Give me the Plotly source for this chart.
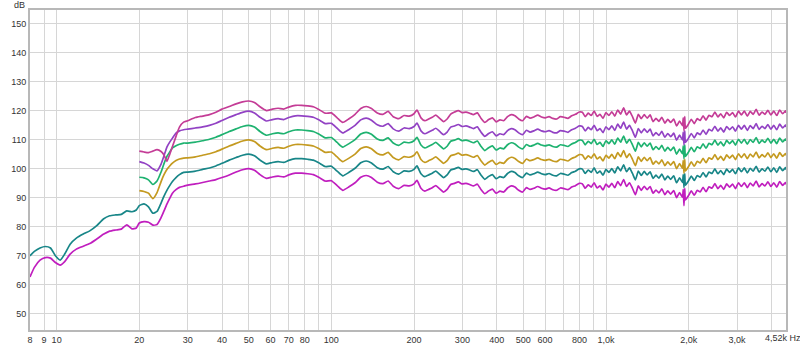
import math
import plotly.graph_objects as go

# ---------------- data ----------------
freq_low = [8.0, 8.3, 8.7, 9.1, 9.5, 9.9, 10.3, 10.7, 11.2, 11.8, 12.5, 13.2,
            14.0, 14.8, 15.6, 16.4, 17.2, 18.0, 18.8, 19.5]
teal_low = [70.0, 71.5, 72.7, 73.2, 72.7, 70.0, 68.5, 70.6, 74.0, 76.1, 77.5, 78.6,
            80.4, 82.7, 83.8, 84.1, 84.3, 85.5, 85.2, 85.8]
magenta_low = [62.7, 66.0, 68.5, 69.4, 69.2, 67.7, 66.8, 68.0, 70.6, 72.3, 73.3, 74.2,
               75.8, 77.4, 78.5, 78.9, 79.2, 80.7, 79.3, 79.6]

freq = [20, 20.8, 21.6, 22.4, 23.2, 24.0, 24.6, 25.2, 25.8, 26.4, 27.2, 28.0, 29.0,
        30, 32, 34, 36, 38, 40, 42.5, 45, 47.5, 50, 52.5, 55, 58, 61, 64, 67, 70, 74, 78, 82,
        86, 90, 95, 100, 105, 110, 116, 122, 128, 134, 140, 147, 154, 161, 168, 176, 184, 192, 200,
        205, 212, 219, 226, 233, 240, 248, 256, 264, 272, 281, 290, 299, 309, 319, 329, 340, 351,
        362, 374, 386, 398, 411, 424, 438, 452, 466, 481, 497, 513, 529, 546, 564, 582, 601, 620,
        640, 661, 682, 704, 727, 750, 774, 799,
        820, 840, 861, 883, 905, 928, 951, 975, 999, 1024, 1050, 1076, 1103, 1130, 1159, 1188,
        1217, 1248, 1279, 1311, 1344, 1377, 1412, 1447, 1483, 1520, 1558, 1597, 1637, 1678, 1720,
        1763, 1807, 1852, 1898, 1910, 1922, 1934, 1946, 1994, 2044, 2095, 2148, 2201, 2256, 2313,
        2370, 2430, 2490, 2553, 2616, 2682, 2749, 2818, 2888, 2960, 3034, 3110, 3188, 3268, 3349,
        3433, 3519, 3607, 3697, 3789, 3884, 3981, 4081, 4183, 4287, 4395, 4505, 4520]

curve_pink = [106.1, 105.8, 105.6, 106.1, 106.6, 106.0, 104.8, 102.6, 105.0, 107.7, 111.2, 114.4, 116.1,
              116.6, 117.7, 118.2, 118.7, 119.5, 120.6, 121.5, 122.4, 123.1, 123.4, 122.9, 121.4, 120.1,
              120.6, 120.9, 120.6, 121.3, 121.9, 121.9, 121.7, 121.4, 120.5, 119.2, 119.3, 117.6, 116.0,
              117.3, 118.8, 120.8, 121.5, 120.8, 119.3, 118.8, 119.8, 118.0, 117.3, 118.4, 118.2, 119.0,
              120.3, 117.6, 116.6, 117.2, 117.8, 118.5, 117.4, 116.3, 117.2, 118.9, 119.6, 120.1, 119.4,
              119.6, 119.2, 118.7, 119.3, 117.4, 116.0, 117.0, 117.6, 116.2, 116.9, 116.6, 118.0, 118.7,
              118.3, 117.2, 116.6, 118.1, 117.5, 117.9, 118.5, 117.9, 117.6, 118.0, 117.4, 117.2, 118.0,
              117.8, 117.4, 118.3, 118.8, 119.6,
              119.5, 118.0, 119.2, 118.4, 119.9, 118.1, 118.8, 117.4, 119.4,
              118.4, 119.7, 118.2, 120.3, 118.9, 121.0, 118.6, 119.9, 118.0, 115.8,
              118.8, 117.3, 118.7, 117.5, 118.6, 116.3, 117.4, 116.4, 117.8, 115.8,
              117.1, 116.0, 117.2, 114.8, 116.5, 114.9, 117.6, 113.2, 118.0, 114.0,
              115.4, 117.1, 115.6, 117.3, 116.7, 118.3, 116.8, 118.5, 118.0, 119.6,
              117.9, 119.0, 117.6, 119.5, 118.4, 119.4, 117.9, 119.9, 118.6, 119.9,
              118.2, 119.8, 118.8, 120.5, 118.5, 119.6, 118.8, 120.2, 118.6, 119.9,
              118.4, 120.3, 119.0, 120.0, 119.3]

curve_purple = [102.5, 102.0, 101.2, 100.0, 99.3, 101.6, 104.5, 107.5, 109.2, 110.6, 112.3, 113.1, 113.5,
                113.7, 114.1, 114.5, 115.0, 115.7, 116.7, 117.8, 118.7, 119.5, 119.9, 119.3, 117.8, 116.5,
                117.0, 117.3, 117.0, 117.7, 118.3, 118.3, 118.1, 117.8, 116.9, 115.6, 115.7, 114.0, 112.4,
                113.6, 115.0, 116.9, 117.5, 116.8, 115.2, 114.7, 115.6, 113.8, 113.0, 114.1, 113.9, 114.6,
                115.8, 113.1, 112.1, 112.7, 113.3, 114.0, 112.9, 111.8, 112.7, 114.4, 114.8, 115.3, 114.6,
                114.8, 114.4, 113.9, 114.5, 112.6, 111.2, 112.2, 112.8, 111.4, 112.1, 111.8, 113.2, 113.9,
                113.5, 112.4, 111.8, 113.3, 112.7, 113.1, 113.7, 113.1, 112.8, 113.2, 112.6, 112.4, 113.2,
                113.0, 112.6, 113.5, 114.0, 114.8,
                114.6, 113.1, 114.3, 113.5, 115.0, 113.2, 113.9, 112.5, 114.5,
                113.5, 114.8, 113.3, 115.4, 114.0, 116.1, 113.7, 115.0, 113.1, 110.9,
                113.9, 112.4, 113.8, 112.6, 113.7, 111.4, 112.5, 111.5, 112.9, 110.9,
                112.2, 111.1, 112.3, 109.9, 111.6, 110.0, 112.7, 108.3, 113.1, 109.1,
                110.5, 112.2, 110.7, 112.4, 111.8, 113.4, 111.9, 113.6, 113.1, 114.7,
                113.0, 114.1, 112.7, 114.6, 113.5, 114.5, 113.0, 115.0, 113.7, 115.0,
                113.3, 114.9, 113.9, 115.6, 113.6, 114.7, 113.9, 115.3, 113.7, 115.0,
                113.5, 115.4, 114.1, 115.1, 114.4]

curve_green = [97.1, 96.9, 96.2, 94.6, 95.8, 98.9, 101.8, 104.3, 105.8, 107.2, 108.0, 108.5, 108.9,
               108.9, 109.2, 109.7, 110.2, 110.9, 111.8, 112.9, 113.8, 114.6, 115.0, 114.4, 112.9, 111.6,
               112.1, 112.4, 112.1, 112.8, 113.4, 113.4, 113.2, 112.9, 112.0, 110.7, 110.8, 109.1, 107.5,
               108.7, 110.1, 112.0, 112.6, 111.9, 110.3, 109.8, 110.7, 108.9, 108.1, 109.2, 109.0, 109.7,
               110.9, 108.2, 107.2, 107.8, 108.4, 109.1, 108.0, 106.9, 107.8, 109.5, 109.9, 110.4, 109.7,
               109.9, 109.5, 109.0, 109.6, 107.7, 106.3, 107.3, 107.9, 106.5, 107.2, 106.9, 108.3, 109.0,
               108.6, 107.5, 106.9, 108.4, 107.8, 108.2, 108.8, 108.2, 107.9, 108.3, 107.7, 107.5, 108.3,
               108.1, 107.7, 108.6, 109.1, 109.9,
               109.8, 108.3, 109.5, 108.7, 110.2, 108.4, 109.1, 107.7, 109.7,
               108.7, 110.0, 108.5, 110.6, 109.2, 111.3, 108.9, 110.2, 108.3, 106.1,
               109.1, 107.6, 109.0, 107.8, 108.9, 106.6, 107.7, 106.7, 108.1, 106.1,
               107.4, 106.3, 107.5, 105.1, 106.8, 105.2, 107.9, 103.5, 108.3, 104.3,
               105.7, 107.4, 105.9, 107.6, 107.0, 108.6, 107.1, 108.8, 108.3, 109.9,
               108.2, 109.3, 107.9, 109.8, 108.7, 109.7, 108.2, 110.2, 108.9, 110.2,
               108.5, 110.1, 109.1, 110.8, 108.8, 109.9, 109.1, 110.5, 108.9, 110.2,
               108.7, 110.6, 109.3, 110.3, 109.6]

curve_gold = [92.5, 92.2, 91.6, 89.7, 91.8, 95.6, 98.0, 99.8, 101.0, 102.0, 102.9, 103.4, 103.7,
              103.8, 104.1, 104.7, 105.2, 105.9, 106.8, 107.9, 108.8, 109.6, 110.0, 109.4, 107.9, 106.6,
              107.1, 107.4, 107.1, 107.8, 108.4, 108.4, 108.2, 107.9, 107.0, 105.7, 105.8, 104.1, 102.5,
              103.7, 105.1, 107.0, 107.6, 106.9, 105.3, 104.8, 105.7, 103.9, 103.1, 104.2, 104.0, 104.7,
              105.9, 103.2, 102.2, 102.8, 103.4, 104.1, 103.0, 101.9, 102.8, 104.5, 104.9, 105.4, 104.7,
              104.9, 104.5, 104.0, 104.6, 102.7, 101.3, 102.3, 102.9, 101.5, 102.2, 101.9, 103.3, 104.0,
              103.6, 102.5, 101.9, 103.4, 102.8, 103.2, 103.8, 103.2, 102.9, 103.3, 102.7, 102.5, 103.3,
              103.1, 102.7, 103.6, 104.1, 104.9,
              104.8, 103.3, 104.5, 103.7, 105.2, 103.4, 104.1, 102.7, 104.7,
              103.7, 105.0, 103.5, 105.6, 104.2, 106.3, 103.9, 105.2, 103.3, 101.1,
              104.1, 102.6, 104.0, 102.8, 103.9, 101.6, 102.7, 101.7, 103.1, 101.1,
              102.4, 101.3, 102.5, 100.1, 101.8, 100.2, 102.9, 98.5, 103.3, 99.3,
              100.7, 102.4, 100.9, 102.6, 102.0, 103.6, 102.1, 103.8, 103.3, 104.9,
              103.2, 104.3, 102.9, 104.8, 103.7, 104.7, 103.2, 105.2, 103.9, 105.2,
              103.5, 105.1, 104.1, 105.8, 103.8, 104.9, 104.1, 105.5, 103.9, 105.2,
              103.7, 105.6, 104.3, 105.3, 104.6]

curve_teal = [87.3, 87.9, 86.9, 84.7, 85.3, 88.2, 90.6, 92.6, 94.2, 95.6, 97.0, 98.0, 98.8,
              98.9, 99.2, 99.8, 100.3, 101.0, 101.9, 103.0, 103.9, 104.7, 105.1, 104.5, 103.0, 101.7,
              102.2, 102.5, 102.2, 102.9, 103.5, 103.5, 103.3, 103.0, 102.1, 100.8, 100.9, 99.2, 97.6,
              98.8, 100.2, 102.1, 102.7, 102.0, 100.4, 99.9, 100.8, 99.0, 98.2, 99.3, 99.1, 99.8,
              101.0, 98.3, 97.3, 97.9, 98.5, 99.2, 98.1, 97.0, 97.9, 99.6, 100.0, 100.5, 99.8,
              100.0, 99.6, 99.1, 99.7, 97.8, 96.4, 97.4, 98.0, 96.6, 97.3, 97.0, 98.4, 99.1,
              98.7, 97.6, 97.0, 98.5, 97.9, 98.3, 98.9, 98.3, 98.0, 98.4, 97.8, 97.6, 98.4,
              98.2, 97.8, 98.7, 99.2, 100.0,
              99.9, 98.4, 99.6, 98.8, 100.3, 98.5, 99.2, 97.8, 99.8,
              98.8, 100.1, 98.6, 100.7, 99.3, 101.4, 99.0, 100.3, 98.4, 96.2,
              99.2, 97.7, 99.1, 97.9, 99.0, 96.7, 97.8, 96.8, 98.2, 96.2,
              97.5, 96.4, 97.6, 95.2, 96.9, 95.3, 98.0, 93.6, 98.4, 94.4,
              95.8, 97.5, 96.0, 97.7, 97.1, 98.7, 97.2, 98.9, 98.4, 100.0,
              98.3, 99.4, 98.0, 99.9, 98.8, 99.8, 98.3, 100.3, 99.0, 100.3,
              98.6, 100.2, 99.2, 100.9, 98.9, 100.0, 99.2, 100.6, 99.0, 100.3,
              98.8, 100.7, 99.4, 100.4, 99.7]

curve_magenta = [81.3, 81.8, 81.6, 80.6, 80.8, 83.2, 85.5, 87.8, 89.8, 91.6, 92.8, 93.6, 94.0,
                 94.4, 94.8, 95.3, 95.8, 96.3, 97.0, 97.9, 98.9, 99.7, 100.1, 99.5, 98.0, 96.7,
                 97.2, 97.5, 97.2, 97.9, 98.5, 98.5, 98.3, 98.0, 97.1, 95.8, 95.9, 94.2, 92.6,
                 93.8, 95.2, 97.1, 97.7, 97.0, 95.4, 94.9, 95.8, 94.0, 93.2, 94.3, 94.1, 94.8,
                 96.0, 93.3, 92.3, 92.9, 93.5, 94.2, 93.1, 92.0, 92.9, 94.6, 95.0, 95.5, 94.8,
                 95.0, 94.6, 94.1, 94.7, 92.8, 91.4, 92.4, 93.0, 91.6, 92.3, 92.0, 93.4, 94.1,
                 93.7, 92.6, 92.0, 93.5, 92.9, 93.3, 93.9, 93.3, 93.0, 93.4, 92.8, 92.6, 93.4,
                 93.2, 92.8, 93.7, 94.2, 95.0,
                 94.8, 93.3, 94.5, 93.7, 95.2, 93.4, 94.1, 92.7, 94.7,
                 93.7, 95.0, 93.5, 95.6, 94.2, 96.3, 93.9, 95.2, 93.3, 91.1,
                 94.1, 92.6, 94.0, 92.8, 93.9, 91.6, 92.7, 91.7, 93.1, 91.1,
                 92.4, 91.3, 92.5, 90.1, 91.8, 90.2, 92.9, 87.3, 93.3, 89.3,
                 90.7, 92.4, 90.9, 92.6, 92.0, 93.6, 92.1, 93.8, 93.3, 94.9,
                 93.2, 94.3, 92.9, 94.8, 93.7, 94.7, 93.2, 95.2, 93.9, 95.2,
                 93.5, 95.1, 94.1, 95.8, 93.8, 94.9, 94.1, 95.5, 93.9, 95.2,
                 93.7, 95.6, 94.3, 95.3, 94.6]

x_tickvals = [8, 9, 10, 20, 30, 40, 50, 60, 70, 80, 90, 100, 200, 300, 400, 500, 600, 700,
              800, 900, 1000, 2000, 3000, 4000]
x_ticktext = ['8', '9', '10', '20', '30', '40', '50', '60', '70', '80', '', '100', '200', '300',
              '400', '500', '600', '', '800', '', '1,0k', '2,0k', '3,0k', '']
last_tick_label = '4,52k Hz'
y_tickvals = [50, 60, 70, 80, 90, 100, 110, 120, 130, 140, 150]
y_unit = 'dB'

# ---------------- figure ----------------
series = [
    (freq_low + freq, magenta_low + curve_magenta, 'rgb(192,30,190)'),
    (freq_low + freq, teal_low + curve_teal, 'rgb(24,134,136)'),
    (freq, curve_gold, 'rgb(196,154,32)'),
    (freq, curve_green, 'rgb(30,178,112)'),
    (freq, curve_purple, 'rgb(146,66,196)'),
    (freq, curve_pink, 'rgb(196,60,150)'),
]

fig = go.Figure()
for xs, ys, col in series:
    fig.add_trace(go.Scatter(x=xs, y=ys, mode='lines',
                             line=dict(color=col, width=1.7, shape='spline', smoothing=0.5),
                             hoverinfo='skip'))

font = dict(family='Liberation Sans, Arial, sans-serif', size=9, color='#333333')

fig.update_layout(
    width=800, height=346,
    margin=dict(l=30, r=14, t=10, b=16, autoexpand=False),
    paper_bgcolor='white', plot_bgcolor='white',
    showlegend=False,
    font=font,
)
fig.update_xaxes(
    type='log', range=[math.log10(8), math.log10(4520)],
    tickmode='array', tickvals=x_tickvals, ticktext=x_ticktext,
    showgrid=True, gridcolor='#d6d6d6', gridwidth=1,
    showline=True, linecolor='#b8b8b8', linewidth=2, mirror=True,
    ticks='', zeroline=False, tickfont=font, automargin=False,
)
fig.update_yaxes(
    range=[44.4, 154.8],
    tickmode='array', tickvals=y_tickvals, ticktext=[str(v) for v in y_tickvals],
    showgrid=True, gridcolor='#d6d6d6', gridwidth=1,
    showline=True, linecolor='#b8b8b8', linewidth=2, mirror=True,
    ticks='', zeroline=False, tickfont=font, automargin=False,
)
fig.add_annotation(text=y_unit, xref='paper', yref='paper', x=-0.014, y=1.017,
                   xanchor='center', yanchor='middle', showarrow=False, font=font)
fig.add_annotation(text=last_tick_label, xref='paper', yref='paper', x=0.996, y=-0.025,
                   xanchor='center', yanchor='middle', showarrow=False, font=font)

fig.write_html('out.html')
